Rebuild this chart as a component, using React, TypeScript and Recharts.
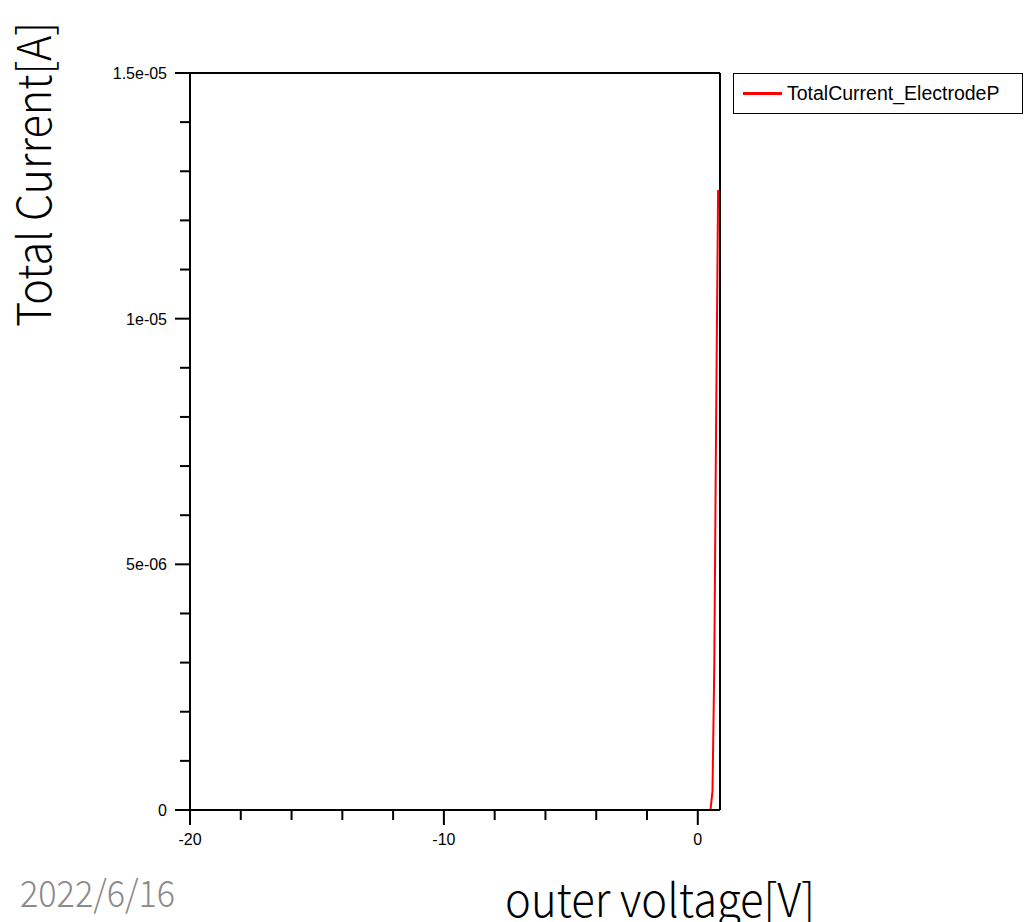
import { LineChart, Line, XAxis, YAxis, ReferenceLine, Legend } from "recharts";

// I-V sweep (outer voltage [V] -> total current [A])
const voltage = [-20, -18, -16, -14, -12, -10, -8, -6, -4, -2, 0, 0.2, 0.4, 0.5, 0.58, 0.65, 0.72, 0.8];
const totalCurrent = [0, 0, 0, 0, 0, 0, 0, 0, 0, 0, 0, 0, 0, 0, 3.9e-7, 2.93e-6, 7.78e-6, 1.262e-5];

const xTicks = [-20, -18, -16, -14, -12, -10, -8, -6, -4, -2, 0];
const xMajor = [-20, -10, 0];
const xTickLabels = ["-20", "-10", "0"];

const yTicks = [
  0, 1e-6, 2e-6, 3e-6, 4e-6, 5e-6, 6e-6, 7e-6, 8e-6, 9e-6, 1e-5,
  1.1e-5, 1.2e-5, 1.3e-5, 1.4e-5, 1.5e-5,
];
const yMajor = [0, 5e-6, 1e-5, 1.5e-5];
const yTickLabels = ["0", "5e-06", "1e-05", "1.5e-05"];

const X_MAX = 0.875;
const Y_MAX = 1.5e-5;
const seriesName = "TotalCurrent_ElectrodeP";

const data = voltage.map((v, i) => ({ v, current: totalCurrent[i] }));

const tickFont = { fontFamily: "Liberation Sans, Arial, sans-serif", fontSize: 16, fill: "#000" };
const titleFont = "'Noto Sans CJK JP', 'Noto Sans', sans-serif";

function XTick(props: any) {
  const { x, y, payload } = props;
  const i = xMajor.indexOf(payload.value);
  const major = i >= 0;
  return (
    <g>
      <line x1={x} x2={x} y1={y} y2={y + (major ? 15 : 10)} stroke="#000" strokeWidth={2} />
      {major && (
        <text x={x} y={y + 35} textAnchor="middle" {...tickFont}>
          {xTickLabels[i]}
        </text>
      )}
    </g>
  );
}

function YTick(props: any) {
  const { x, y, payload } = props;
  const i = yMajor.indexOf(payload.value);
  const major = i >= 0;
  return (
    <g>
      <line x1={x} x2={x - (major ? 15 : 10)} y1={y} y2={y} stroke="#000" strokeWidth={2} />
      {major && (
        <text x={x - 23} y={y + 6} textAnchor="end" {...tickFont}>
          {yTickLabels[i]}
        </text>
      )}
    </g>
  );
}

function LegendBox() {
  return (
    <div
      style={{
        border: "1.5px solid #000",
        background: "#fff",
        width: 290,
        height: 41,
        boxSizing: "border-box",
        display: "flex",
        alignItems: "center",
        paddingLeft: 9,
        fontFamily: "Liberation Sans, Arial, sans-serif",
        fontSize: 19.5,
        color: "#000",
        textAlign: "left",
      }}
    >
      <span style={{ display: "inline-block", width: 39, height: 3, background: "#ff0000", marginRight: 5 }} />
      {seriesName}
    </div>
  );
}

export default function App() {
  return (
    <div style={{ position: "absolute", left: 0, top: 0, width: 1028, height: 922, background: "#fff", overflow: "hidden" }}>
      <LineChart
        width={1028}
        height={922}
        data={data}
        margin={{ top: 73, right: 308, bottom: 82, left: 130 }}
      >
        <XAxis
          type="number"
          dataKey="v"
          domain={[-20, X_MAX]}
          ticks={xTicks}
          allowDataOverflow
          height={30}
          tickLine={false}
          tickSize={0}
          tickMargin={0}
          axisLine={{ stroke: "#000", strokeWidth: 2 }}
          tick={<XTick />}
        />
        <YAxis
          type="number"
          domain={[0, Y_MAX]}
          ticks={yTicks}
          allowDataOverflow
          width={60}
          tickLine={false}
          tickSize={0}
          tickMargin={0}
          axisLine={{ stroke: "#000", strokeWidth: 2 }}
          tick={<YTick />}
        />
        <ReferenceLine y={Y_MAX} stroke="#000" strokeWidth={2} />
        <ReferenceLine x={X_MAX} stroke="#000" strokeWidth={2} />
        <Line
          type="linear"
          dataKey="current"
          name={seriesName}
          stroke="#ff0000"
          strokeWidth={2}
          dot={false}
          isAnimationActive={false}
        />
        <Legend
          layout="horizontal"
          verticalAlign="middle"
          align="center"
          content={() => <LegendBox />}
          wrapperStyle={{ position: "absolute", left: 733, top: 73, width: 290, height: 41 }}
        />
      </LineChart>
      <svg
        width={1028}
        height={922}
        style={{ position: "absolute", left: 0, top: 0, pointerEvents: "none" }}
      >
        <text
          transform="translate(51, 327) rotate(-90)"
          x={0}
          y={0}
          fontFamily={titleFont}
          fontWeight={300}
          fontSize={46}
          textLength={305}
          lengthAdjust="spacingAndGlyphs"
          fill="#000"
        >
          Total Current[A]
        </text>
        <text
          x={505}
          y={917}
          fontFamily={titleFont}
          fontWeight={300}
          fontSize={46}
          textLength={310}
          lengthAdjust="spacingAndGlyphs"
          fill="#000"
        >
          outer voltage[V]
        </text>
        <text
          x={20}
          y={907}
          fontFamily={titleFont}
          fontWeight={300}
          fontSize={37}
          textLength={155}
          lengthAdjust="spacingAndGlyphs"
          fill="#8a8a8a"
        >
          2022/6/16
        </text>
      </svg>
    </div>
  );
}
